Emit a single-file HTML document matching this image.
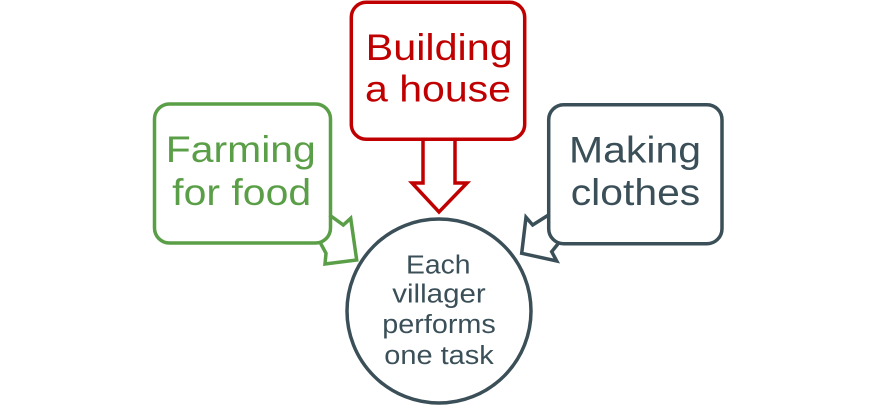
<!DOCTYPE html>
<html>
<head>
<meta charset="utf-8">
<style>
  html, body { margin: 0; padding: 0; background: #ffffff; }
  svg { display: block; }
  text { font-family: "Liberation Sans", Arial, sans-serif; }
</style>
</head>
<body>
<svg width="877" height="405" viewBox="0 0 877 405" xmlns="http://www.w3.org/2000/svg">
  <rect x="0" y="0" width="877" height="405" fill="#ffffff"/>

  <!-- Green box -->
  <rect x="154.5" y="104" width="176" height="139" rx="15" ry="15" fill="#ffffff" stroke="#5a9f47" stroke-width="3.5"/>
  <polyline points="329.5,215 343.3,225 350.7,218.3 356.7,260 325,264 326,253.3 320.7,243.5" fill="none" stroke="#5a9f47" stroke-width="3.5" stroke-linejoin="miter"/>
  <text x="240.8" y="162" font-size="37.5" fill="#5a9f47" text-anchor="middle" textLength="150" lengthAdjust="spacingAndGlyphs">Farming</text>
  <text x="241.7" y="205" font-size="37.5" fill="#5a9f47" text-anchor="middle" textLength="139" lengthAdjust="spacingAndGlyphs">for food</text>

  <!-- Red box -->
  <rect x="351.3" y="2.3" width="173.4" height="137" rx="15" ry="15" fill="#ffffff" stroke="#c00000" stroke-width="3.5"/>
  <polyline points="423,140 423,183 412,183 439,212 467,183 455,183 455,140" fill="none" stroke="#c00000" stroke-width="3.5" stroke-linejoin="miter"/>
  <text x="439.2" y="60" font-size="37.5" fill="#c00000" text-anchor="middle" textLength="147" lengthAdjust="spacingAndGlyphs">Building</text>
  <text x="438" y="101.7" font-size="37.5" fill="#c00000" text-anchor="middle" textLength="146" lengthAdjust="spacingAndGlyphs">a house</text>

  <!-- Dark box -->
  <rect x="548.7" y="104.7" width="173.3" height="139" rx="15" ry="15" fill="#ffffff" stroke="#3b4f58" stroke-width="3.5"/>
  <polyline points="548.5,215 532.7,225 526,217.3 521.7,253.3 556.7,261 551.7,251.7 558.3,243.5" fill="none" stroke="#3b4f58" stroke-width="3.5" stroke-linejoin="miter"/>
  <text x="635" y="162.7" font-size="37.5" fill="#3b4f58" text-anchor="middle" textLength="132" lengthAdjust="spacingAndGlyphs">Making</text>
  <text x="635.5" y="205" font-size="37.5" fill="#3b4f58" text-anchor="middle" textLength="129.5" lengthAdjust="spacingAndGlyphs">clothes</text>

  <!-- Circle -->
  <circle cx="439" cy="311" r="92" fill="#ffffff" stroke="#3b4f58" stroke-width="3.5"/>
  <text x="438.3" y="273.3" font-size="25.5" fill="#3b4f58" text-anchor="middle" textLength="64.5" lengthAdjust="spacingAndGlyphs">Each</text>
  <text x="439" y="302.7" font-size="25.5" fill="#3b4f58" text-anchor="middle" textLength="93.5" lengthAdjust="spacingAndGlyphs">villager</text>
  <text x="439" y="333" font-size="25.5" fill="#3b4f58" text-anchor="middle" textLength="113.5" lengthAdjust="spacingAndGlyphs">performs</text>
  <text x="439" y="364" font-size="25.5" fill="#3b4f58" text-anchor="middle" textLength="109.5" lengthAdjust="spacingAndGlyphs">one task</text>
</svg>
</body>
</html>
